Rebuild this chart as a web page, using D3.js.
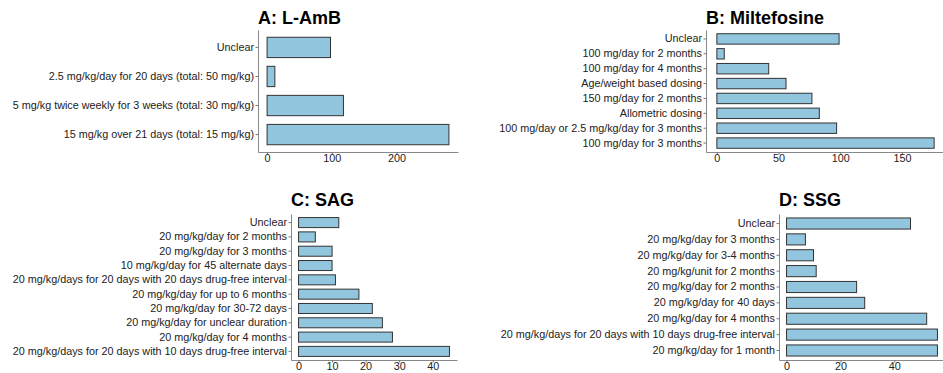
<!DOCTYPE html>
<html>
<head>
<meta charset="utf-8">
<script src="https://cdn.jsdelivr.net/npm/d3@7"></script>
<style>
  body { margin: 0; background: #fff; }
  svg { display: block; }
  .panel-title { font-family: "Liberation Sans", Arial, sans-serif; font-weight: bold; font-size: 18px; fill: #000; }
  .axis text { font-family: "Liberation Sans", Arial, sans-serif; font-size: 10.8px; fill: #222; }
  .axis line { stroke: #777; }
  .axis path { stroke: #888; stroke-width: 1; }
</style>
</head>
<body>
<svg id="chart" width="943" height="373"></svg>
<script>
// Number of studies per dosing regimen, listed top to bottom as drawn.
const lambCategories = [
  "Unclear",
  "2.5 mg/kg/day for 20 days (total: 50 mg/kg)",
  "5 mg/kg twice weekly for 3 weeks (total: 30 mg/kg)",
  "15 mg/kg over 21 days (total: 15 mg/kg)"
];
const lambValues = [98, 12, 118, 281];
const lambTicks = [0, 100, 200];

const miltCategories = [
  "Unclear",
  "100 mg/day for 2 months",
  "100 mg/day for 4 months",
  "Age/weight based dosing",
  "150 mg/day for 2 months",
  "Allometric dosing",
  "100 mg/day or 2.5 mg/kg/day for 3 months",
  "100 mg/day for 3 months"
];
const miltValues = [99, 6, 42, 56, 77, 83, 97, 176];
const miltTicks = [0, 50, 100, 150];

const sagCategories = [
  "Unclear",
  "20 mg/kg/day for 2 months",
  "20 mg/kg/day for 3 months",
  "10 mg/kg/day for 45 alternate days",
  "20 mg/kg/days for 20 days with 20 days drug-free interval",
  "20 mg/kg/day for up to 6 months",
  "20 mg/kg/day for 30-72 days",
  "20 mg/kg/day for unclear duration",
  "20 mg/kg/day for 4 months",
  "20 mg/kg/days for 20 days with 10 days drug-free interval"
];
const sagValues = [12, 5, 10, 10, 11, 18, 22, 25, 28, 45];
const sagTicks = [0, 10, 20, 30, 40];

const ssgCategories = [
  "Unclear",
  "20 mg/kg/day for 3 months",
  "20 mg/kg/day for 3-4 months",
  "20 mg/kg/unit for 2 months",
  "20 mg/kg/day for 2 months",
  "20 mg/kg/day for 40 days",
  "20 mg/kg/day for 4 months",
  "20 mg/kg/days for 20 days with 10 days drug-free interval",
  "20 mg/kg/day for 1 month"
];
const ssgValues = [46, 7, 10, 11, 26, 29, 52, 56, 56];
const ssgTicks = [0, 20, 40];

// Panel placement on the page (plot area edges and title baseline)
const panels = [
  { title: "A: L-AmB",       cats: lambCategories, vals: lambValues, ticks: lambTicks,
    left: 258, right: 458, top: 30, bottom: 152, titleY: 24 },
  { title: "B: Miltefosine", cats: miltCategories, vals: miltValues, ticks: miltTicks,
    left: 706, right: 945, top: 30, bottom: 152, titleY: 24 },
  { title: "C: SAG",         cats: sagCategories,  vals: sagValues,  ticks: sagTicks,
    left: 291, right: 457, top: 214, bottom: 360, titleY: 206 },
  { title: "D: SSG",         cats: ssgCategories,  vals: ssgValues,  ticks: ssgTicks,
    left: 779, right: 945, top: 214, bottom: 360, titleY: 206 }
];

const svg = d3.select("#chart");

panels.forEach(p => {
  const maxV = d3.max(p.vals);
  // 5% expansion on both ends of the continuous axis
  const x = d3.scaleLinear()
    .domain([-0.05 * maxV, 1.05 * maxV])
    .range([p.left, p.right]);

  const y = d3.scaleBand()
    .domain(p.cats)
    .range([p.top, p.bottom])
    .paddingInner(0.3)
    .paddingOuter(0.25);

  const g = svg.append("g");

  g.selectAll("rect.bar")
    .data(p.cats.map((c, i) => ({ cat: c, val: p.vals[i] })))
    .join("rect")
    .attr("class", "bar")
    .attr("x", x(0))
    .attr("y", d => y(d.cat))
    .attr("width", d => x(d.val) - x(0))
    .attr("height", y.bandwidth())
    .attr("fill", "#92c5de")
    .attr("stroke", "#333")
    .attr("stroke-width", 1);

  g.append("g")
    .attr("class", "axis")
    .attr("transform", `translate(${p.left},0)`)
    .call(d3.axisLeft(y).tickSize(2.5).tickSizeOuter(0).tickPadding(1.5));

  g.append("g")
    .attr("class", "axis")
    .attr("transform", `translate(0,${p.bottom})`)
    .call(d3.axisBottom(x).tickValues(p.ticks).tickFormat(d3.format("d"))
      .tickSize(2.5).tickSizeOuter(0).tickPadding(0));

  g.append("text")
    .attr("class", "panel-title")
    .attr("x", p.left)
    .attr("y", p.titleY)
    .text(p.title);
});
</script>
</body>
</html>
